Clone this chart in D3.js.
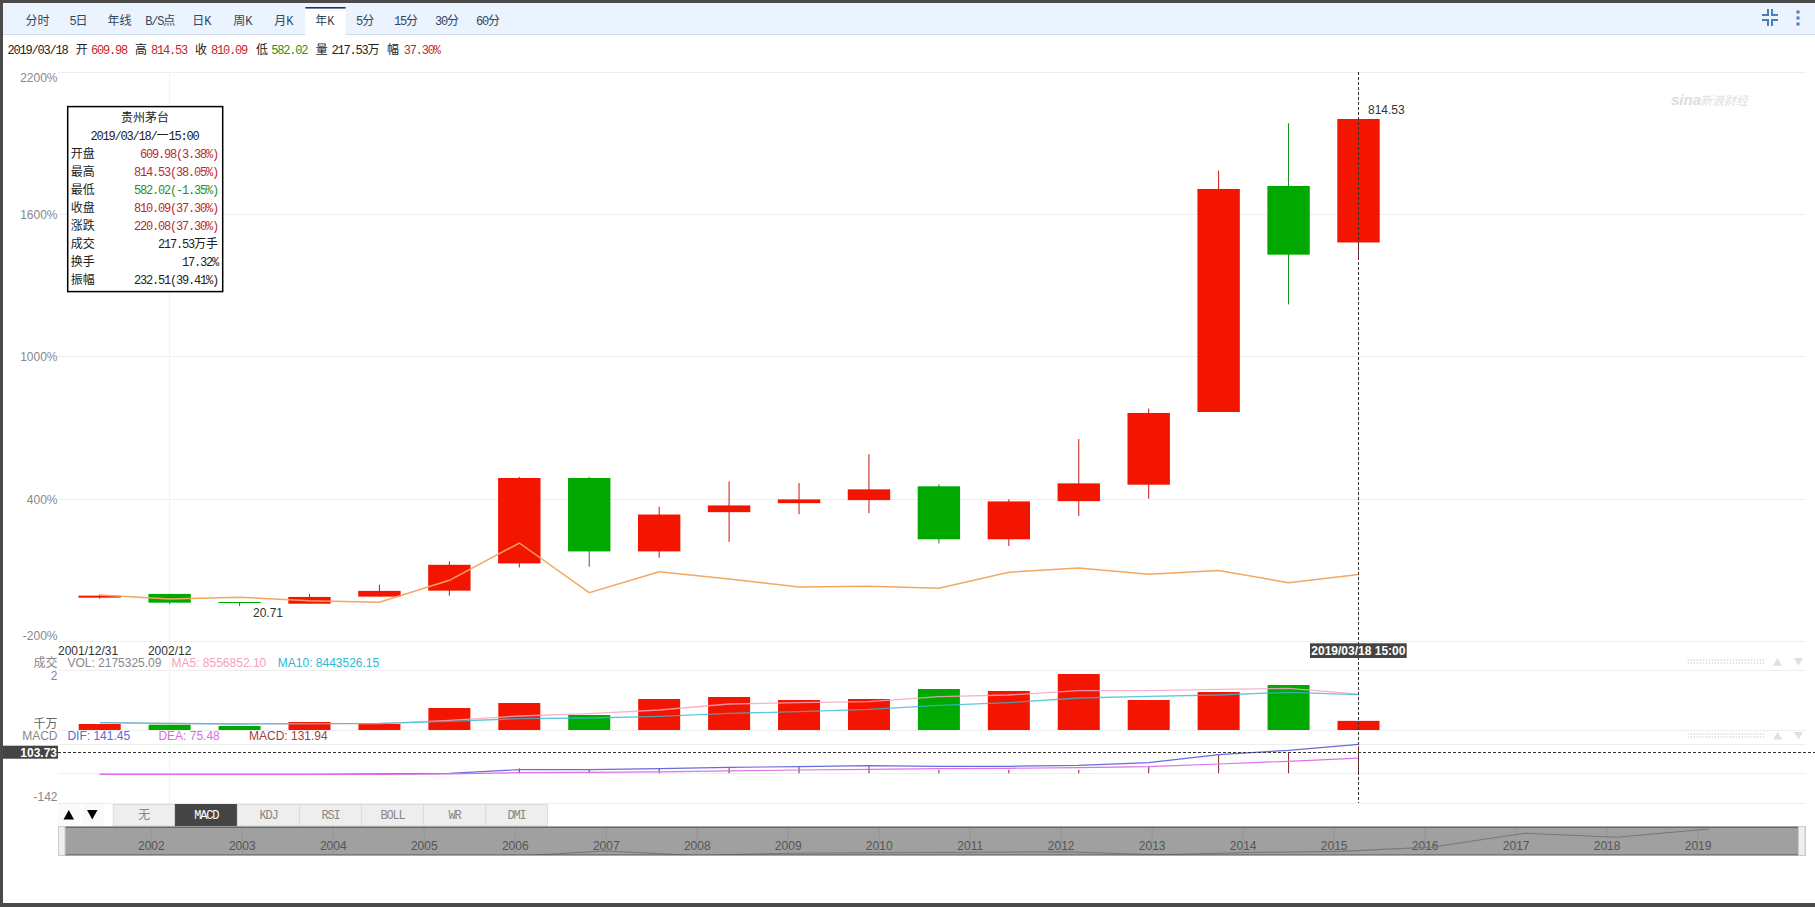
<!DOCTYPE html>
<html><head><meta charset="utf-8"><title>贵州茅台 年K</title>
<script src="https://cdn.jsdelivr.net/npm/d3@7/dist/d3.min.js"></script>
<style>html,body{margin:0;padding:0;background:#fff;overflow:hidden}svg{display:block}</style>
</head><body><svg id="c" width="1815" height="907"></svg>
<script>
// ---------- data ----------
const years = [2001,2002,2003,2004,2005,2006,2007,2008,2009,2010,2011,2012,2013,2014,2015,2016,2017,2018,2019];
const opens  = [34.2,40.3,27.2,24.4,35.9,45.6,89.7,228.2,109.2,172.8,187.4,192.3,214.7,128.8,190.7,217.3,335.2,701.5,609.98];
const highs  = [39.1,40.3,27.2,40.3,55.4,92.9,229.9,229.9,181.6,222.8,220.0,266.8,217.9,193.5,291.3,340.8,726.3,803.2,810.09];
const lows   = [32.6,24.0,20.71,24.4,35.9,37.5,83.1,84.3,99.0,124.5,169.5,171.1,122.2,118.0,166.9,194.7,335.2,509.6,582.02];
const closes = [37.5,26.1,26.1,35.4,45.2,87.5,228.2,109.2,169.0,183.7,193.5,209.8,128.8,190.2,219.5,333.6,696.7,590.2,810.09];
const comparePct = [-3.9,-20.8,-13.6,-27.9,-34.7,58.1,215.3,5.8,94.3,63.6,29.8,32.8,24.3,91.8,109.9,83.4,99,48,82.1];
const volumes = [143,126,95,190,143,524,643,357,738,786,714,738,976,929,1333,714,905,1071,217.53]; // 万手
const ma5  = [175,159,143,151,151,230,333,389,476,619,651,675,794,833,937,937,968,992,855.69];
const ma10 = [175,159,143,151,159,206,270,286,325,397,437,492,587,651,762,802,833,897,844.35];
const dif  = [-2.7,-2.7,-2.7,-2.7,-1,2.1,19.7,19.7,24.5,30.9,34.1,38.9,35.7,35.7,40.5,53.3,91.7,112.5,141.45];
const dea  = [-2.7,-2.7,-2.7,-2.7,-2.7,-1,5.3,6.9,8.5,13.3,18.1,21.3,24.5,26.1,29.3,34.1,46.9,59.7,75.48];
const macd = [0,0,0,0,0,0,25.6,22.4,27,27,32,35,19,19,19,35,93,100,131.94];
const pctTicks = [2200,1600,1000,400,-200];
const toolbarTabs = ["分时","5日","年线","B/S点","日K","周K","月K","年K","5分","15分","30分","60分"];
const indicatorTabs = ["无","MACD","KDJ","RSI","BOLL","WR","DMI"];
const overviewYears = [2002,2003,2004,2005,2006,2007,2008,2009,2010,2011,2012,2013,2014,2015,2016,2017,2018,2019];
const tipRows = [["开盘","609.98(3.38%)","r"],["最高","814.53(38.05%)","r"],["最低","582.02(-1.35%)","g"],["收盘","810.09(37.30%)","r"],["涨跌","220.08(37.30%)","r"],["成交","217.53万手","k"],["换手","17.32%","k"],["振幅","232.51(39.41%)","k"]];
const infoRuns = [["2019/03/18",7.6,"k"],["开",75.8,"k"],["609.98",91,"r"],["高",135,"k"],["814.53",151,"r"],["收",195,"k"],["810.09",211,"r"],["低",256,"k"],["582.02",271.3,"g"],["量",315.7,"k"],["217.53万",331.4,"k"],["幅",387,"k"],["37.30%",403.7,"r"]];

// ---------- helpers ----------
const RED="#f41500",GREEN="#00a800",TR="#c0272d",TG="#1f8f1f",TK="#333";
const tcol={r:TR,g:TG,k:"#222"};
const SANS="'Liberation Sans',Arial,'Noto Sans CJK SC',sans-serif";
const svg=d3.select("#c");
function txt(g,s,x,y,o={}){
  const t=g.append("text").attr("x",x).attr("y",y).attr("font-family",SANS).attr("font-size",o.size||12)
    .attr("fill",o.fill||"#888").attr("text-anchor",o.anchor||"start").text(s);
  if(o.weight)t.attr("font-weight",o.weight);
  return t;
}
function mono(g,s,x,y,o={}){ // bitmap-style browser text: half-width latin + full-width CJK
  const t=g.append("text").attr("x",x).attr("y",y).attr("fill",o.fill||"#222").attr("text-anchor",o.anchor||"start");
  (s.match(/[\x00-\x7f]+|[^\x00-\x7f]+/g)||[]).forEach(r=>{
    const asc=/^[\x00-\x7f]/.test(r);
    const ts=t.append("tspan").text(r).attr("font-size",12).attr("font-family",asc?"'Liberation Mono',monospace":"'Noto Sans CJK SC',sans-serif");
    if(asc)ts.attr("letter-spacing",-1.2);
  });
  return t;
}

// ---------- scales ----------
const x=d3.scalePoint().domain(years).range([99.7,1358.5]);
const yPrice=d3.scaleLinear().domain([20.71,810.09]).range([606,119]);
const yPct=d3.scaleLinear().domain([-200,2200]).range([641.5,72.3]);
const yVol=d3.scaleLinear().domain([0,1000]).range([730,688]);
const yMacd=d3.scaleLinear().domain([-142,141.45]).range([803.3,744.3]);
const xOverview=d3.scaleLinear().domain([2002,2019]).range([150.8,1697.6]);
const xOvLine=d3.scaleLinear().domain([2007,2019]).range([605,1708.7]);
const yOv=d3.scaleLinear().domain([228.2,810.09]).range([851,829]);
const idx=d3.range(years.length);

// ---------- frame & toolbar ----------
svg.append("rect").attr("x",3).attr("y",3).attr("width",1812).attr("height",31).attr("fill","#eaf3fe");
svg.append("line").attr("x1",3).attr("x2",1815).attr("y1",34.5).attr("y2",34.5).attr("stroke","#cfdcec");
svg.append("rect").attr("x",305.4).attr("y",7).attr("width",40.2).attr("height",28).attr("fill","#fff");
svg.append("rect").attr("x",305.4).attr("y",7).attr("width",40.2).attr("height",1.6).attr("fill","#1a2f6b");
const tabX=d3.scalePoint().domain(toolbarTabs).range([37.5,488]);
const tb=svg.append("g");
toolbarTabs.forEach(t=>mono(tb,t,tabX(t),t==="年K"?25:24.5,{anchor:"middle",fill:"#33465f"}));
// icons
const ic=svg.append("g").attr("stroke","#4a7cc0").attr("stroke-width",2).attr("fill","none");
ic.append("path").attr("d","M1762 15h6v-6 M1778 15h-6v-6 M1762 20h6v6 M1778 20h-6v6");
svg.append("g").attr("fill","#4a7cc0").selectAll("rect").data([10.5,16.5,22.5]).join("rect").attr("x",1796.5).attr("y",d=>d).attr("width",3).attr("height",3);
// info line
const il=svg.append("g");
infoRuns.forEach(r=>mono(il,r[0],r[1],53.5,{fill:tcol[r[2]]}));

// ---------- grids ----------
const grid=svg.append("g").attr("stroke","#eeeeee").attr("stroke-width",1);
const hLines=[...pctTicks.map(d=>yPct(d)),670.7,730,744.3,773.3,803.3];
grid.selectAll("line.h").data(hLines).join("line").attr("class","h").attr("x1",58).attr("x2",1806).attr("y1",d=>Math.floor(d)+.5).attr("y2",d=>Math.floor(d)+.5);
grid.append("line").attr("x1",x(2002)).attr("x2",x(2002)).attr("y1",72).attr("y2",803).attr("stroke","#f0f0f0");

// ---------- y axis ----------
const ax=svg.append("g").attr("transform","translate(57.5,0)")
  .call(d3.axisLeft(yPct).tickValues(pctTicks).tickSize(0).tickPadding(0).tickFormat(d=>d+"%"));
ax.select(".domain").remove();
ax.selectAll("text").attr("font-family",SANS).attr("font-size",12).attr("fill","#888").attr("dy",null)
  .attr("y",d=>d===2200?9.5:d===-200?-2:d===400?4.5:3.5);

// ---------- candles ----------
const cs=svg.append("g");
const col=i=>closes[i]>=opens[i]&&!(years[i]===2003)?RED:GREEN;
cs.selectAll("line").data(idx).join("line").attr("x1",i=>x(years[i])).attr("x2",i=>x(years[i]))
  .attr("y1",i=>yPrice(highs[i])).attr("y2",i=>yPrice(lows[i]))
  .attr("stroke",i=>col(i)===RED?"#d01010":"#108a10").attr("stroke-width",1);
cs.selectAll("rect").data(idx).join("rect").attr("x",i=>x(years[i])-21.2).attr("width",42.4)
  .attr("y",i=>yPrice(Math.max(opens[i],closes[i])))
  .attr("height",i=>Math.max(1,Math.abs(yPrice(opens[i])-yPrice(closes[i]))))
  .attr("fill",col);
// compare line
svg.append("path").datum(idx).attr("fill","none").attr("stroke","#f2a860").attr("stroke-width",1.5)
  .attr("d",d3.line().x(i=>x(years[i])).y(i=>yPct(comparePct[i])));
txt(svg,"814.53",1368,114,{fill:TK});
txt(svg,"20.71",253,617,{fill:TK});

// ---------- date axis ----------
const dateLabels=svg.append("g");
txt(dateLabels,"2001/12/31",58,655,{fill:TK});
txt(dateLabels,"2002/12",x(2002),655,{fill:TK,anchor:"middle"});

// ---------- tooltip ----------
const tip=svg.append("g");
tip.append("rect").attr("x",67.7).attr("y",106.6).attr("width",155).attr("height",185).attr("fill","#fff").attr("stroke","#000").attr("stroke-width",1.5);
mono(tip,"贵州茅台",145,122,{anchor:"middle"});
mono(tip,"2019/03/18/一15:00",144.5,140,{anchor:"middle"});
tipRows.forEach((r,i)=>{const yy=158+i*18.05;
  mono(tip,r[0],70.8,yy);
  mono(tip,r[1],218,yy,{anchor:"end",fill:tcol[r[2]]});
});

// ---------- watermark ----------
const wm=svg.append("g");
wm.append("text").attr("x",1671).attr("y",105).attr("font-family",SANS).attr("font-style","italic").attr("font-weight","bold").attr("font-size",15).attr("fill","#dcdcdc").text("sina");
wm.append("text").attr("x",1700).attr("y",105).attr("font-family","'Noto Sans CJK SC'").attr("font-style","italic").attr("font-size",12).attr("fill","#e0e0e0").text("新浪财经");

// ---------- volume panel ----------
const vb=svg.append("g");
vb.selectAll("rect").data(idx).join("rect").attr("x",i=>x(years[i])-21).attr("width",42)
  .attr("y",i=>yVol(volumes[i])).attr("height",i=>yVol(0)-yVol(volumes[i])).attr("fill",col);
const lv=arr=>d3.line().x(i=>x(years[i])).y(i=>yVol(arr[i]));
svg.append("path").datum(idx).attr("fill","none").attr("stroke","#f7a6c2").attr("stroke-width",1.3).attr("opacity",.85).attr("d",lv(ma5));
svg.append("path").datum(idx).attr("fill","none").attr("stroke","#35b9d6").attr("stroke-width",1.3).attr("opacity",.8).attr("d",lv(ma10));
const vt=svg.append("g");
txt(vt,"成交",57.5,666.5,{anchor:"end"});
txt(vt,"VOL: 2175325.09",67.4,666.5);
txt(vt,"MA5: 8556852.10",171.5,666.5,{fill:"#f4a0c0"});
txt(vt,"MA10: 8443526.15",277.8,666.5,{fill:"#30b8d0"});
txt(vt,"2",57.5,680,{anchor:"end"});
txt(vt,"千万",57.5,727.5,{anchor:"end",fill:"#666"});

// ---------- MACD panel ----------
const mb=svg.append("g");
mb.selectAll("line").data(idx.filter(i=>macd[i]>0)).join("line").attr("x1",i=>x(years[i])).attr("x2",i=>x(years[i]))
  .attr("y1",yMacd(0)-.5).attr("y2",i=>yMacd(macd[i])).attr("stroke","#8b1f1f").attr("stroke-width",1);
const lm=arr=>d3.line().x(i=>x(years[i])).y(i=>yMacd(arr[i]));
svg.append("path").datum(idx).attr("fill","none").attr("stroke","#6a6ae0").attr("stroke-width",1.2).attr("d",lm(dif));
svg.append("path").datum(idx).attr("fill","none").attr("stroke","#e070e8").attr("stroke-width",1.2).attr("d",lm(dea));
const mt=svg.append("g");
txt(mt,"MACD",57.5,740,{anchor:"end"});
txt(mt,"DIF: 141.45",67.4,740,{fill:"#5a6ad8"});
txt(mt,"DEA: 75.48",158.4,740,{fill:"#d870e0"});
txt(mt,"MACD: 131.94",249,740,{fill:"#a83a3a"});
txt(mt,"-142",57.5,801,{anchor:"end"});

// ---------- crosshair ----------
const ch=svg.append("g").attr("stroke","#333").attr("stroke-width",1).attr("stroke-dasharray","3,2");
ch.append("line").attr("x1",x(2019)).attr("x2",x(2019)).attr("y1",72).attr("y2",803);
ch.append("line").attr("x1",58).attr("x2",1815).attr("y1",752.5).attr("y2",752.5);
svg.append("rect").attr("x",3).attr("y",745.7).attr("width",55).attr("height",13).attr("fill","#444");
txt(svg,"103.73",57,756.5,{anchor:"end",fill:"#fff",weight:"bold"});
svg.append("rect").attr("x",1310).attr("y",643.3).attr("width",96.7).attr("height",14.7).attr("fill","#444");
txt(svg,"2019/03/18 15:00",1358.4,655,{anchor:"middle",fill:"#fff",weight:"bold"});

// ---------- side grips ----------
[[659,665.7],[733,739.5]].forEach(([a,b])=>{
  const g=svg.append("g");
  d3.range(2).forEach(k=>g.append("line").attr("x1",1687.6).attr("x2",1765).attr("y1",a+1+k*3).attr("y2",a+1+k*3).attr("stroke","#dcdcdc").attr("stroke-width",1.5).attr("stroke-dasharray","1.5,1.5"));
  g.append("path").attr("d",`M1773 ${b}L1782 ${b}L1777.5 ${a-1}Z`).attr("fill","#e0e0e0");
  g.append("path").attr("d",`M1794 ${a-1}L1803 ${a-1}L1798.5 ${b}Z`).attr("fill","#e0e0e0");
});

// ---------- indicator tabs ----------
const bt=svg.append("g");
[[58,68.8,"M63.5 819.5h10.5l-5.2-9.5Z"],[82.3,92.5,"M87 810h10.5l-5.2 9.5Z"]].forEach(([bx,c,p])=>{
  bt.append("rect").attr("x",bx).attr("y",804).attr("width",21.5).attr("height",21.7).attr("fill","#fafafa");
  bt.append("path").attr("d",p).attr("fill","#000");
});
const tabScale=d3.scaleBand().domain(indicatorTabs).range([113.3,547.6]);
indicatorTabs.forEach(t=>{
  const on=t==="MACD";
  bt.append("rect").attr("x",tabScale(t)).attr("y",804.5).attr("width",tabScale.bandwidth()).attr("height",21.2).attr("fill",on?"#444":"#eeeeee").attr("stroke",on?"#444":"#dcdcdc");
  mono(bt,t,tabScale(t)+tabScale.bandwidth()/2,819,{anchor:"middle",fill:on?"#fff":"#888"});
});

// ---------- overview brush ----------
const ov=svg.append("g");
ov.append("clipPath").attr("id","ovc").append("rect").attr("x",58).attr("y",827).attr("width",1748).attr("height",28);
ov.append("rect").attr("x",58).attr("y",827).attr("width",1747.5).attr("height",28).attr("fill","#a0a0a0");
const ovAxis=ov.append("g").attr("transform","translate(0,827)")
  .call(d3.axisBottom(xOverview).tickValues(overviewYears).tickSize(28).tickPadding(0).tickFormat(d3.format("d")));
ovAxis.select(".domain").remove();
ovAxis.selectAll("line").attr("stroke","#959595");
ovAxis.selectAll("text").attr("font-family",SANS).attr("font-size",12).attr("fill","#555").attr("dy",null).attr("y",23);
ov.append("path").datum(idx).attr("clip-path","url(#ovc)").attr("fill","none").attr("stroke","#777").attr("stroke-width",1.1)
  .attr("d",d3.line().x(i=>xOvLine(years[i])).y(i=>yOv(closes[i])));
ov.append("line").attr("x1",58).attr("x2",1805.5).attr("y1",827.2).attr("y2",827.2).attr("stroke","#555").attr("stroke-width",1.2);
ov.append("line").attr("x1",58).attr("x2",1805.5).attr("y1",855).attr("y2",855).attr("stroke","#555").attr("stroke-width",1.2);
ov.append("rect").attr("x",58.5).attr("y",826.5).attr("width",6.5).attr("height",29).attr("fill","#eee").attr("stroke","#ccc");
ov.append("rect").attr("x",1798.5).attr("y",826.5).attr("width",6.5).attr("height",29).attr("fill","#eee").attr("stroke","#ccc");

// ---------- window chrome ----------
svg.append("rect").attr("width",1815).attr("height",3).attr("fill","#4a4a4a");
svg.append("rect").attr("width",3).attr("height",907).attr("fill","#4a4a4a");
svg.append("rect").attr("y",903).attr("width",1815).attr("height",4).attr("fill","#4a4a4a");
</script></body></html>
